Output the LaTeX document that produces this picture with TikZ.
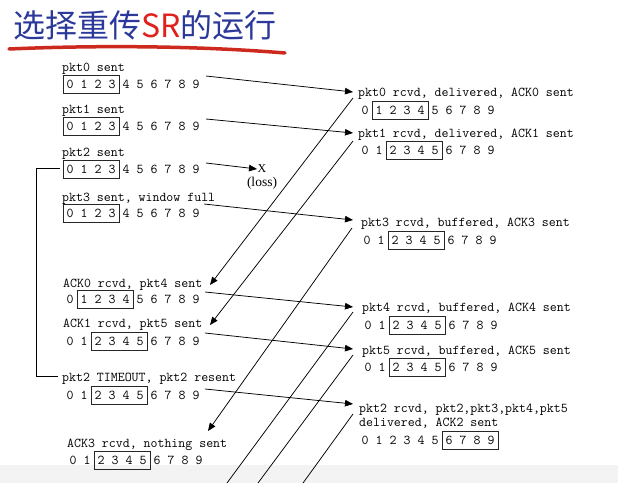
\documentclass[tikz,border=0pt]{standalone}
\usepackage{fontspec}
\newfontfamily\cjkfont{Noto Sans CJK SC}
\newfontfamily\lossfont{Liberation Serif}
\usetikzlibrary{arrows.meta}
\definecolor{ttlblue}{HTML}{2B3A9A}
\definecolor{ttlred}{HTML}{E0201B}
\definecolor{ulred}{HTML}{CC2A1E}
\definecolor{bandgray}{HTML}{F3F3F3}
% #1 name, #2 x of digit 0, #3 y, #4 first boxed digit, #5 last boxed digit
\newcommand{\seqrow}[5]{%
  \foreach \i in {0,...,9} {\node[dig] at ({#2+14*\i},#3) {\i};}
  \draw[boxln] ({#2+14*#4-7},{#3-9}) rectangle ({#2+14*#5+7},{#3+9});
  \coordinate (#1) at (#2,#3);
}
\begin{document}
\begin{tikzpicture}[x=1pt,y=-1pt,
  lbl/.style={anchor=west,inner sep=0pt,yshift=-1.5pt,font=\ttfamily\fontsize{13.5}{14}\selectfont},
  dig/.style={inner sep=0pt,font=\ttfamily\fontsize{13.5}{14}\selectfont},
  boxln/.style={line width=0.9pt,draw=black!85},
  msg/.style={line width=0.75pt,-{Triangle[length=8pt,width=6.5pt]}},
  ackcut/.style={line width=0.75pt}]
\useasboundingbox (0,0) rectangle (618,483);
\fill[bandgray] (0,465) rectangle (618,483);

% title
\node[anchor=west,inner sep=0pt,font=\cjkfont\fontsize{32}{32}\selectfont,text=ttlblue] (title) at (13,25) {选择重传\textcolor{ttlred}{SR}的运行};
\draw[ulred,line width=3.5pt,line cap=round] (9,49) .. controls (100,45) and (200,46) .. (285,53);

% sender side
\node[lbl] (s1) at (62,67) {pkt0 sent};
\seqrow{s1r}{70}{84}{0}{3}
\node[lbl] (s2) at (62,109) {pkt1 sent};
\seqrow{s2r}{70}{126}{0}{3}
\node[lbl] (s3) at (62,152) {pkt2 sent};
\seqrow{s3r}{70}{169}{0}{3}
\node[lbl] (s4) at (62,197) {pkt3 sent, window full};
\seqrow{s4r}{70}{213}{0}{3}
\node[lbl] (s5) at (63,283) {ACK0 rcvd, pkt4 sent};
\seqrow{s5r}{70}{299}{1}{4}
\node[lbl] (s6) at (63,323) {ACK1 rcvd, pkt5 sent};
\seqrow{s6r}{70}{341}{2}{5}
\node[lbl] (s7) at (62,377) {pkt2 TIMEOUT, pkt2 resent};
\seqrow{s7r}{70}{395}{2}{5}
\node[lbl] (s8) at (67,443) {ACK3 rcvd, nothing sent};
\seqrow{s8r}{73}{460}{2}{5}

% receiver side
\node[lbl] (r1) at (358,92) {pkt0 rcvd, delivered, ACK0 sent};
\seqrow{r1r}{365}{110}{1}{4}
\node[lbl] (r2) at (358,133) {pkt1 rcvd, delivered, ACK1 sent};
\seqrow{r2r}{365}{150}{2}{5}
\node[lbl] (r3) at (361,222) {pkt3 rcvd, buffered, ACK3 sent};
\seqrow{r3r}{367}{240}{2}{5}
\node[lbl] (r4) at (362,307) {pkt4 rcvd, buffered, ACK4 sent};
\seqrow{r4r}{368}{325}{2}{5}
\node[lbl] (r5) at (362,350) {pkt5 rcvd, buffered, ACK5 sent};
\seqrow{r5r}{368}{367}{2}{5}
\node[lbl] (r6) at (359,408) {pkt2 rcvd, pkt2,pkt3,pkt4,pkt5};
\node[lbl] (r6b) at (359,422) {delivered, ACK2 sent};
\seqrow{r6r}{365}{440}{6}{9}

% loss marker
\node[inner sep=0pt,font=\lossfont\fontsize{12}{12}\selectfont] (lossx) at (262,169) {X};
\node[inner sep=0pt,font=\lossfont\fontsize{13.5}{14}\selectfont] (losst) at (262,183) {(loss)};

% endpoints
\coordinate (a1s) at (206,76);  \coordinate (a1e) at (353,92);
\coordinate (a2s) at (206,119); \coordinate (a2e) at (353,133);
\coordinate (a3s) at (206,163); \coordinate (a3e) at (257,169);
\coordinate (a4s) at (204,204); \coordinate (a4e) at (353,220);
\coordinate (a5s) at (205,292); \coordinate (a5e) at (353,307);
\coordinate (a6s) at (205,333); \coordinate (a6e) at (353,349);
\coordinate (a7s) at (205,389); \coordinate (a7e) at (353,404);
\coordinate (b1s) at (353,98);  \coordinate (b1e) at (210,285);
\coordinate (b2s) at (353,141); \coordinate (b2e) at (210,325);
\coordinate (b3s) at (352,228); \coordinate (b3e) at (208,431);
\coordinate (b4s) at (353,312); \coordinate (b4e) at (227,483);
\coordinate (b5s) at (353,355); \coordinate (b5e) at (258,483);
\coordinate (b6s) at (353,414); \coordinate (b6e) at (303,483);

% data packets
\draw[msg] (a1s) -- (a1e);
\draw[msg] (a2s) -- (a2e);
\draw[msg] (a3s) -- (a3e);
\draw[msg] (a4s) -- (a4e);
\draw[msg] (a5s) -- (a5e);
\draw[msg] (a6s) -- (a6e);
\draw[msg] (a7s) -- (a7e);
% acks
\draw[msg] (b1s) -- (b1e);
\draw[msg] (b2s) -- (b2e);
\draw[msg] (b3s) -- (b3e);
\draw[ackcut] (b4s) -- (b4e);
\draw[ackcut] (b5s) -- (b5e);
\draw[ackcut] (b6s) -- (b6e);

% timeout bracket
\coordinate (t1) at (60,168);
\coordinate (t2) at (58,376);
\draw[line width=0.75pt] (t1) -- (36,168) -- (36,376) -- (t2);
\end{tikzpicture}
\end{document}
